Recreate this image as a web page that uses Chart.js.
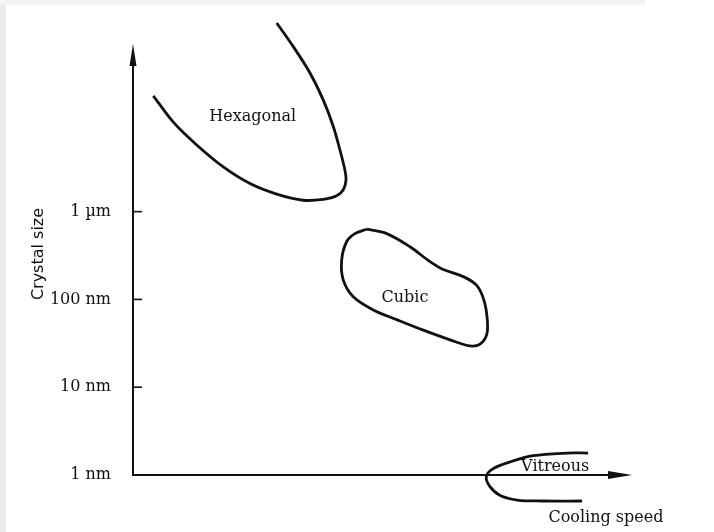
<!DOCTYPE html>
<html>
<head>
<meta charset="utf-8">
<script src="https://cdn.jsdelivr.net/npm/chart.js@4.4.0/dist/chart.umd.min.js"></script>
<style>
  html, body { margin: 0; padding: 0; background: #fff; }
  #wrap { position: relative; width: 714px; height: 532px; background: #fff; }
  #wrap:before { content: ""; position: absolute; left: 0; top: 0; width: 6px; height: 532px; background: #ebebeb; }
  #wrap:after { content: ""; position: absolute; left: 0; top: 0; width: 645px; height: 5px; background: #f3f3f3; }
  canvas { position: relative; z-index: 1; }
</style>
</head>
<body>
<div id="wrap"><canvas id="myChart" width="714" height="532"></canvas></div>
<script>
// x: cooling speed (arbitrary units 0-100), y: log10(crystal size / 1 nm)
const tickValues = [0, 1, 2, 3]
const tickLabels = ['1 nm', '10 nm', '100 nm', '1 \u00b5m']

const hexagonal = [
    { x: 4.07, y: 4.32 }, { x: 8.08, y: 4.02 }, { x: 12.77, y: 3.76 }, { x: 18.10, y: 3.51 },
    { x: 23.45, y: 3.32 }, { x: 28.80, y: 3.20 }, { x: 34.13, y: 3.13 }, { x: 38.14, y: 3.14 },
    { x: 40.82, y: 3.18 }, { x: 42.14, y: 3.25 }, { x: 42.69, y: 3.36 }, { x: 42.48, y: 3.47 },
    { x: 41.48, y: 3.70 }, { x: 40.14, y: 3.97 }, { x: 38.14, y: 4.27 }, { x: 35.47, y: 4.58 },
    { x: 32.12, y: 4.88 }, { x: 28.80, y: 5.15 }
]

const cubic = [
    { x: 46.83, y: 2.80 }, { x: 50.84, y: 2.75 }, { x: 55.51, y: 2.60 }, { x: 59.52, y: 2.43 },
    { x: 62.18, y: 2.34 }, { x: 66.19, y: 2.26 }, { x: 68.88, y: 2.16 }, { x: 70.34, y: 1.99 },
    { x: 71.00, y: 1.77 }, { x: 70.88, y: 1.60 }, { x: 69.54, y: 1.49 }, { x: 67.54, y: 1.47 },
    { x: 63.53, y: 1.54 }, { x: 58.18, y: 1.65 }, { x: 52.85, y: 1.77 }, { x: 48.16, y: 1.88 },
    { x: 44.15, y: 2.03 }, { x: 42.14, y: 2.22 }, { x: 41.82, y: 2.45 }, { x: 42.83, y: 2.66 },
    { x: 44.49, y: 2.75 }, { x: 46.83, y: 2.80 }
]

const vitreous = [
    { x: 91.2, y: 0.25 }, { x: 87.0, y: 0.25 }, { x: 80.2, y: 0.22 }, { x: 75.6, y: 0.15 },
    { x: 72.1, y: 0.07 }, { x: 70.8, y: -0.02 }, { x: 71.5, y: -0.13 }, { x: 73.5, y: -0.23 },
    { x: 77.0, y: -0.285 }, { x: 82.2, y: -0.296 }, { x: 90.0, y: -0.296 }
]

const regionNames = ['Hexagonal', 'Cubic', 'Vitreous']
const regionLabelPos = [{ x: 24.0, y: 4.08 }, { x: 54.5, y: 2.02 }, { x: 84.6, y: 0.09 }]

const serif = '"DejaVu Serif", "Liberation Serif", serif'
const ink = '#111'

const curve = (data) => ({
    data: data,
    showLine: true,
    borderColor: ink,
    borderWidth: 2.8,
    pointRadius: 0,
    tension: 0.35,
    capBezierPoints: false,
    clip: false
})

// axes with arrow heads, inward ticks and all the free text
const diagramPlugin = {
    id: 'diagram',
    afterDatasetsDraw(chart) {
        const { ctx, chartArea, scales: { x, y } } = chart
        const x0 = chartArea.left
        const y0 = y.getPixelForValue(0)
        ctx.save()
        ctx.strokeStyle = ink
        ctx.fillStyle = ink
        ctx.lineWidth = 2

        // y axis
        ctx.beginPath()
        ctx.moveTo(x0, y0 + 1)
        ctx.lineTo(x0, chartArea.top + 10)
        ctx.stroke()
        ctx.beginPath()
        ctx.moveTo(x0, chartArea.top)
        ctx.lineTo(x0 - 3.5, chartArea.top + 22)
        ctx.lineTo(x0 + 3.5, chartArea.top + 22)
        ctx.closePath()
        ctx.fill()

        // x axis
        ctx.beginPath()
        ctx.moveTo(x0 - 1, y0)
        ctx.lineTo(chartArea.right - 10, y0)
        ctx.stroke()
        ctx.beginPath()
        ctx.moveTo(chartArea.right, y0)
        ctx.lineTo(chartArea.right - 24, y0 - 4)
        ctx.lineTo(chartArea.right - 24, y0 + 4)
        ctx.closePath()
        ctx.fill()

        // inward ticks
        ctx.lineWidth = 1.6
        tickValues.slice(1).forEach(v => {
            const py = y.getPixelForValue(v)
            ctx.beginPath()
            ctx.moveTo(x0, py)
            ctx.lineTo(x0 + 9, py)
            ctx.stroke()
        })

        ctx.textAlign = 'center'
        ctx.textBaseline = 'middle'
        ctx.font = '16px ' + serif
        regionNames.forEach((name, i) => {
            ctx.fillText(name, x.getPixelForValue(regionLabelPos[i].x), y.getPixelForValue(regionLabelPos[i].y))
        })

        ctx.fillText('Cooling speed', chartArea.right - 26, y0 + 43)

        ctx.translate(39, 254)
        ctx.rotate(-Math.PI / 2)
        ctx.font = '16px "DejaVu Sans", sans-serif'
        ctx.fillText('Crystal size', 0, 0)
        ctx.restore()
    }
}

const ctx = document.getElementById('myChart')
const myChart = new Chart(ctx, {
    type: 'scatter',
    data: {
        datasets: [curve(hexagonal), curve(cubic), curve(vitreous)]
    },
    options: {
        responsive: false,
        animation: false,
        layout: { padding: { top: 44, right: 82, bottom: 57, left: 0 } },
        plugins: {
            legend: { display: false },
            tooltip: { enabled: false }
        },
        scales: {
            x: {
                display: false,
                min: 0,
                max: 100
            },
            y: {
                min: 0,
                max: 4.91,
                afterFit: (scale) => { scale.width = 133 },
                afterBuildTicks: (scale) => { scale.ticks = tickValues.map(v => ({ value: v })) },
                grid: { display: false, drawTicks: false },
                border: { display: false },
                ticks: {
                    padding: 22,
                    color: ink,
                    font: { family: serif, size: 16 },
                    callback: (value) => tickLabels[tickValues.indexOf(value)]
                }
            }
        }
    },
    plugins: [diagramPlugin]
})
</script>
</body>
</html>
